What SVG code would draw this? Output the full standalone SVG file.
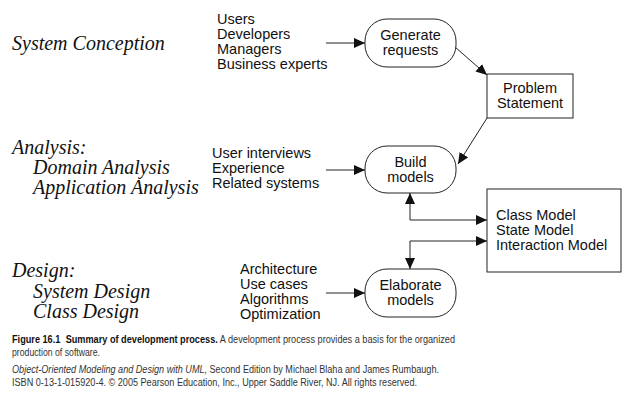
<svg xmlns="http://www.w3.org/2000/svg" width="634" height="403" viewBox="0 0 634 403">
<style>
  .phase { font-family: "Liberation Serif", "Times New Roman", serif; font-style: italic; font-size: 20px; fill: #111; }
  .list { font-family: "Liberation Sans", Arial, sans-serif; font-size: 14.5px; fill: #111; }
  .lbl { font-family: "Liberation Sans", Arial, sans-serif; font-size: 14.5px; fill: #111; text-anchor: middle; }
  .node { fill: #fff; stroke: #222; stroke-width: 1; }
  .conn { fill: none; stroke: #222; stroke-width: 1; }
  .cap { font-family: "Liberation Sans", Arial, sans-serif; font-size: 10px; fill: #333; }
  .capb { font-weight: bold; fill: #111; }
</style>
<defs>
  <marker id="ah" markerUnits="userSpaceOnUse" markerWidth="11" markerHeight="10" refX="11" refY="5" orient="auto-start-reverse">
    <path d="M0,0 L11,5 L0,10 z" fill="#111"/>
  </marker>
</defs>
<rect width="634" height="403" fill="#fff"/>

<g id="phases">
  <text class="phase" x="12" y="50">System Conception</text>
  <text class="phase" x="12" y="154">Analysis:</text>
  <text class="phase" x="33" y="174">Domain Analysis</text>
  <text class="phase" x="33" y="194">Application Analysis</text>
  <text class="phase" x="12" y="277">Design:</text>
  <text class="phase" x="33" y="298">System Design</text>
  <text class="phase" x="33" y="318">Class Design</text>
</g>

<g id="inputs-conception">
  <text class="list" x="217" y="24">Users</text>
  <text class="list" x="217" y="39">Developers</text>
  <text class="list" x="217" y="54">Managers</text>
  <text class="list" x="217" y="69">Business experts</text>
</g>
<g id="inputs-analysis">
  <text class="list" x="212" y="158">User interviews</text>
  <text class="list" x="212" y="173">Experience</text>
  <text class="list" x="212" y="188">Related systems</text>
</g>
<g id="inputs-design">
  <text class="list" x="240" y="274">Architecture</text>
  <text class="list" x="240" y="289">Use cases</text>
  <text class="list" x="240" y="304">Algorithms</text>
  <text class="list" x="240" y="319">Optimization</text>
</g>

<g id="connectors">
  <path class="conn" d="M326,43 L365,43" marker-end="url(#ah)"/>
  <path class="conn" d="M326,170 L365,170" marker-end="url(#ah)"/>
  <path class="conn" d="M326,293 L365,293" marker-end="url(#ah)"/>
  <path class="conn" d="M455,47 L487,75" marker-end="url(#ah)"/>
  <path class="conn" d="M487,118 L458,164" marker-end="url(#ah)"/>
  <path class="conn" d="M410,193 L410,220 L487,220" marker-start="url(#ah)" marker-end="url(#ah)"/>
  <path class="conn" d="M487,241 L410,241 L410,269" marker-start="url(#ah)" marker-end="url(#ah)"/>
</g>

<g id="generate-requests">
  <rect class="node" x="365" y="19" width="91" height="48" rx="22" ry="22"/>
  <text class="lbl" x="410.5" y="40">Generate</text>
  <text class="lbl" x="410.5" y="55">requests</text>
</g>
<g id="problem-statement">
  <rect class="node" x="487" y="74" width="86" height="44"/>
  <text class="lbl" x="530" y="93">Problem</text>
  <text class="lbl" x="530" y="108">Statement</text>
</g>
<g id="build-models">
  <rect class="node" x="365" y="146" width="91" height="47" rx="22" ry="22"/>
  <text class="lbl" x="410.5" y="167">Build</text>
  <text class="lbl" x="410.5" y="182">models</text>
</g>
<g id="models">
  <rect class="node" x="487" y="189" width="134" height="83"/>
  <text class="list" x="496" y="220">Class Model</text>
  <text class="list" x="496" y="235">State Model</text>
  <text class="list" x="496" y="250">Interaction Model</text>
</g>
<g id="elaborate-models">
  <rect class="node" x="365" y="269" width="91" height="48" rx="22" ry="22"/>
  <text class="lbl" x="410.5" y="290">Elaborate</text>
  <text class="lbl" x="410.5" y="305">models</text>
</g>

<g id="caption">
  <text class="cap" x="12" y="343" textLength="443" lengthAdjust="spacingAndGlyphs"><tspan class="capb">Figure 16.1</tspan><tspan class="capb" dx="3"> Summary of development process.</tspan> A development process provides a basis for the organized</text>
  <text class="cap" x="12" y="356" textLength="88" lengthAdjust="spacingAndGlyphs">production of software.</text>
  <text class="cap" x="12" y="373" textLength="427" lengthAdjust="spacingAndGlyphs"><tspan font-style="italic">Object-Oriented Modeling and Design with UML,</tspan> Second Edition by Michael Blaha and James Rumbaugh.</text>
  <text class="cap" x="12" y="386" textLength="405" lengthAdjust="spacingAndGlyphs">ISBN 0-13-1-015920-4. © 2005 Pearson Education, Inc., Upper Saddle River, NJ. All rights reserved.</text>
</g>
</svg>
